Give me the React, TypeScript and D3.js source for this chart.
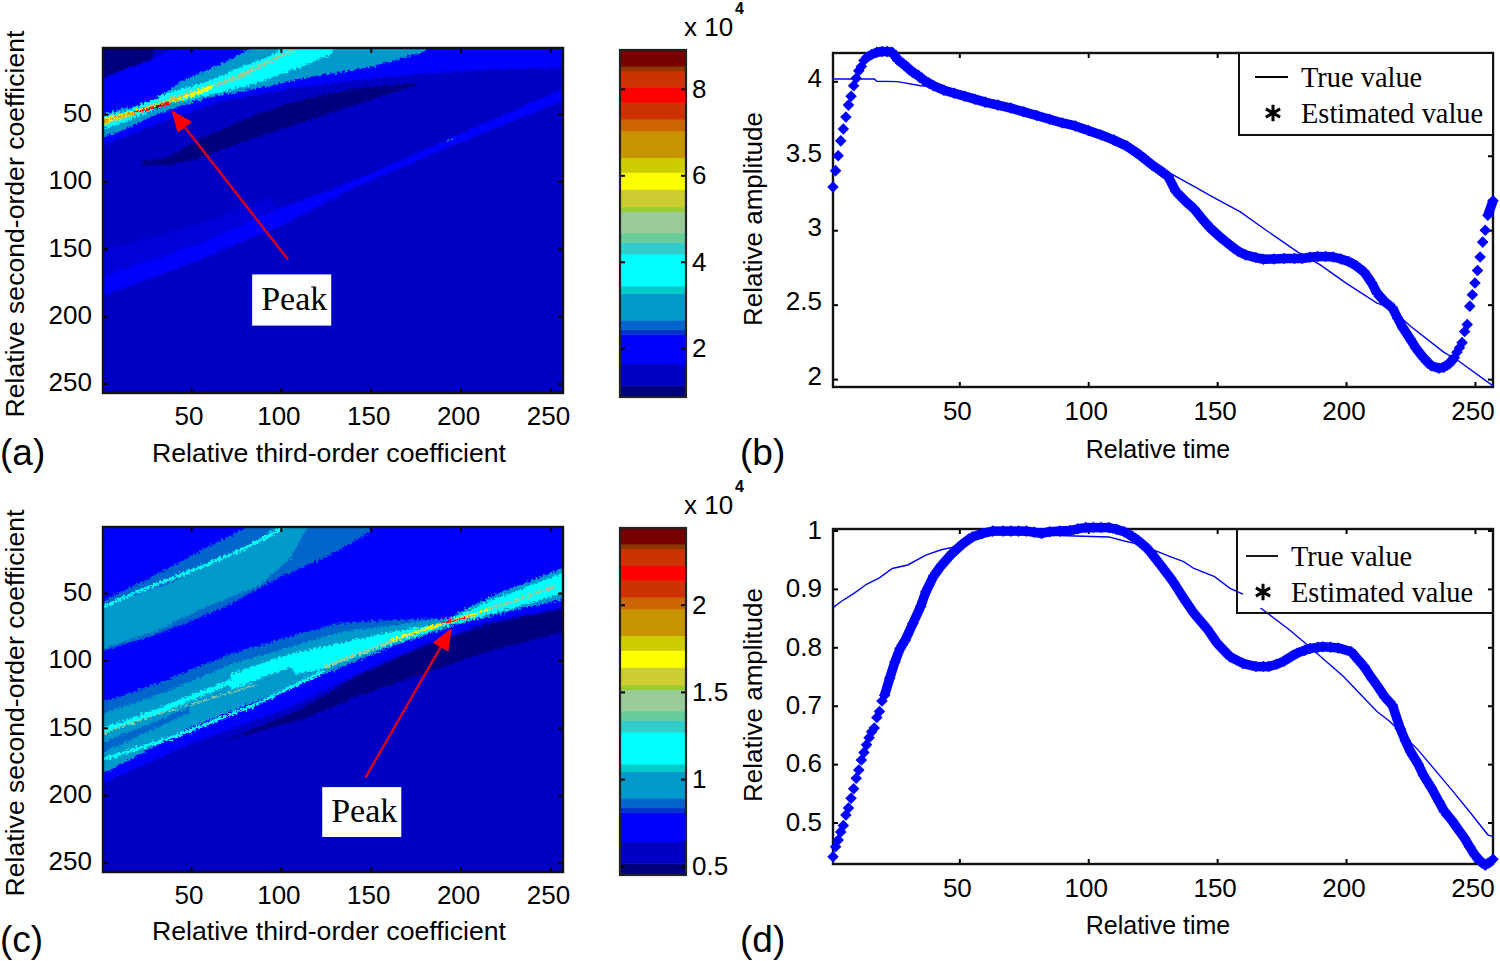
import { useEffect, useRef } from 'react'
import * as d3 from 'd3'

type Pt = [number, number]

const sansFont = '"Liberation Sans", Arial, sans-serif'
const serifFont = '"Liberation Serif", "Times New Roman", serif'

// colour levels of the upper colour bar (x 10^4), bottom to top
const levelStops = [0.87, 1.14, 1.64, 2.32, 2.43, 2.65, 3.27, 3.44, 4.18, 4.45, 4.67, 5.16, 5.27, 5.68, 6.07, 6.41, 7.03, 7.3, 7.69, 8.04, 8.42, 8.53, 8.9]
const levelColors = ['#00007f', '#0000c4', '#0000ff', '#0033cc', '#0066cc', '#0099cc', '#00cccc', '#00ffff', '#33cccc', '#66cc99', '#99cc99', '#99cc33', '#cccc33', '#ffff00', '#cccc00', '#c89400', '#cc6600', '#cc3300', '#ff0000', '#cc3300', '#8c3a00', '#7a0000']
const lowerBarDomain = [0.45, 2.44]

const heatTicks = [50, 100, 150, 200, 250]
const upperBarTicks = [2, 4, 6, 8]
const lowerBarTicks = [0.5, 1, 1.5, 2]
const timeTicks = [50, 100, 150, 200, 250]
const ampTicksB = [2, 2.5, 3, 3.5, 4]
const ampTicksD = [0.5, 0.6, 0.7, 0.8, 0.9, 1]

// panel (a) regions, [third-order, second-order]
const aNavyCorner: Pt[] = [[-5, -5], [29, -5], [29, 9], [-5, 26]]
const aBlueWedge: Pt[] = [[-5, 26], [29, 9], [49, -5], [265, -5], [265, 15], [216, 17], [179, 20], [142, 25], [105, 31], [68, 40], [31, 57], [-5, 77]]
const aNavyStreak: Pt[] = [[22, 85], [36, 83], [57, 67], [83, 52], [109, 40], [142, 31], [176, 27], [176, 28], [142, 43], [105, 59], [72, 74], [57, 82], [38, 88], [22, 88]]
const aFaintFringe: Pt[] = [[-5, 153], [49, 134], [94, 112], [98, 121], [49, 149], [-5, 173]]
const aFaintRidge: Pt[] = [[-5, 173], [49, 149], [98, 121], [142, 99], [194, 68], [265, 27], [265, 36], [194, 74], [142, 104], [98, 134], [49, 161], [-5, 188]]
const aFaintSpot: Pt[] = [[192, 70], [196, 68]]
const aTealBand: Pt[] = [[-5, 52], [27, 41], [46, 25], [68, 12], [83, 2], [88, -5], [190, -5], [179, 4], [151, 15], [114, 23], [87, 31], [59, 38], [31, 50], [12, 62], [-5, 70]]
const aCyanBand: Pt[] = [[-5, 53], [16, 47], [38, 34], [57, 27], [75, 17], [94, 7], [107, -5], [135, -5], [127, 6], [109, 16], [87, 27], [59, 36], [36, 43], [16, 54], [-5, 64]]
const aLightBand: Pt[] = [[-5, 55], [18, 47], [38, 38], [55, 31], [74, 22], [90, 12], [105, 3], [113, -5], [120, -5], [94, 12], [77, 24], [59, 31], [38, 41], [18, 51], [-5, 61]]
const aYellowBand: Pt[] = [[-5, 56], [18, 47.5], [36, 41], [55, 32], [62, 28], [62, 31], [55, 35], [36, 43], [18, 50], [-5, 60]]
const aOrangeCrest: Pt[] = [[-5, 58], [18, 49], [45, 38]]
const aRedCrest: Pt[] = [[18, 49], [30, 45], [38, 42]]
const aDarkCrest: Pt[] = [[29, 45], [33, 44]]

// panel (c) regions
const cBlueRegion: Pt[] = [[-5, -5], [265, -5], [265, 59], [216, 71], [179, 88], [142, 110], [105, 135], [49, 162], [-5, 195]]
const cNavyStreak: Pt[] = [[113, 135], [142, 112], [179, 90], [216, 73], [265, 59], [265, 76], [216, 93], [179, 110], [142, 127], [116, 142], [68, 160]]
const cUpperFringe: Pt[] = [[-5, 60], [31, 36], [59, 16], [77, 4], [88, -5], [155, -5], [148, 6], [124, 24], [98, 39], [68, 61], [31, 81], [-5, 95]]
const cUpperTeal: Pt[] = [[-5, 62], [40, 42], [64, 26], [87, 13], [101, -5], [117, -5], [105, 25], [87, 45], [59, 60], [31, 78], [-5, 94]]
const cUpperCrest: Pt[] = [[-5, 64], [18, 50], [40, 39], [64, 26], [81, 16], [98, 4], [106, -5]]
const cMidFringe: Pt[] = [[-5, 134], [35, 115], [72, 95], [105, 82], [133, 72], [161, 70], [179, 69], [192, 69], [161, 90], [124, 110], [87, 130], [49, 150], [22, 169], [-5, 188]]
const cMidTeal: Pt[] = [[-5, 142], [35, 124], [72, 103], [105, 90], [133, 79], [161, 74], [179, 71], [192, 69], [216, 53], [265, 27], [265, 52], [226, 64], [196, 74], [161, 90], [124, 110], [87, 130], [49, 150], [22, 169], [-5, 188]]
const cMidSlot: Pt[] = [[-5, 164], [31, 145], [49, 135], [49, 139], [31, 150], [-5, 172]]
const cMidCyan: Pt[] = [[72, 110], [105, 95], [133, 87], [161, 79], [190, 72], [216, 56], [265, 31], [265, 47], [226, 62], [196, 73], [161, 88], [124, 106], [109, 110], [105, 105], [72, 122]]
const cMidLeftCrest: Pt[] = [[-5, 155], [31, 138], [72, 116]]
const cLowerCrest: Pt[] = [[-5, 176], [40, 157], [87, 132], [124, 108]]
const cLightCrest: Pt[] = [[124, 105], [161, 86], [192, 72], [216, 62], [253, 45]]
const cLeftCrest: Pt[] = [[-5, 157], [31, 140], [87, 118]]
const cYellowCrest: Pt[] = [[161, 85], [192, 72], [216, 62]]
const cRedCrest: Pt[] = [[190, 72], [205, 68]]

// arrows and boxes, tail then tip / corners
const aArrow: Pt[] = [[104, 158], [39, 47]]
const aPeakBox: Pt[] = [[84, 169], [128, 207]]
const cArrow: Pt[] = [[147, 187], [195, 76]]
const cPeakBox: Pt[] = [[123, 194], [167, 231]]

// panel (b) curves, [time, amplitude]
const bEstimated: Pt[] = [[1, 3.29], [2, 3.4], [3, 3.5], [4, 3.6], [5, 3.68], [6, 3.76], [7, 3.84], [8, 3.9], [9, 3.97], [10, 4.02], [11, 4.07], [12, 4.1], [13, 4.14], [14, 4.16], [15, 4.17], [16, 4.18], [18, 4.195], [20, 4.2], [22, 4.2], [24, 4.195], [26, 4.147], [28, 4.12], [30, 4.09], [32, 4.06], [34, 4.04], [36, 4.01], [38, 3.99], [40, 3.97], [44, 3.94], [48, 3.92], [52, 3.9], [56, 3.88], [60, 3.86], [65, 3.84], [70, 3.82], [75, 3.795], [80, 3.77], [85, 3.745], [90, 3.72], [95, 3.7], [100, 3.67], [105, 3.64], [110, 3.605], [115, 3.565], [120, 3.505], [125, 3.435], [128, 3.4], [131, 3.36], [134, 3.26], [138, 3.19], [141, 3.145], [144, 3.08], [147, 3.02], [151, 2.956], [155, 2.9], [158, 2.86], [161, 2.834], [165, 2.816], [168, 2.805], [172, 2.807], [176, 2.81], [180, 2.81], [183, 2.81], [186, 2.818], [189, 2.823], [192, 2.823], [195, 2.82], [198, 2.807], [201, 2.79], [204, 2.76], [207, 2.72], [210, 2.645], [212, 2.578], [215, 2.52], [218, 2.478], [220, 2.41], [222, 2.345], [225, 2.267], [227, 2.21], [230, 2.144], [233, 2.09], [236, 2.073], [238, 2.08], [240, 2.104], [242, 2.144], [243, 2.18], [244, 2.21], [245, 2.245], [246, 2.32], [247, 2.367], [248, 2.49], [249, 2.567], [250, 2.645], [251, 2.73], [252, 2.82], [253, 2.92], [254, 3.0], [255, 3.1], [257, 3.197]]
const bTrue: Pt[] = [[1, 4.015], [17, 4.015], [18, 4.0], [26, 3.998], [35, 3.97], [39, 3.965], [60, 3.87], [100, 3.67], [124, 3.47], [131, 3.39], [141, 3.295], [147, 3.235], [159, 3.123], [169, 3.0], [181, 2.856], [190, 2.767], [200, 2.645], [212, 2.51], [217, 2.48], [225, 2.355], [238, 2.18], [243, 2.13], [257, 1.955]]

// panel (d) curves
const dEstimated: Pt[] = [[1, 0.4415], [2, 0.4586], [3, 0.47], [4, 0.484], [5, 0.495], [6, 0.513], [7, 0.525], [8, 0.5415], [9, 0.558], [10, 0.5757], [11, 0.59], [12, 0.607], [13, 0.62], [14, 0.633], [15, 0.645], [16, 0.6555], [17, 0.662], [18, 0.68], [19, 0.69], [20, 0.708], [21, 0.718], [23, 0.747], [25, 0.775], [27, 0.798], [29, 0.812], [32, 0.841], [35, 0.87], [37, 0.895], [40, 0.922], [43, 0.94], [47, 0.96], [51, 0.976], [55, 0.989], [59, 0.995], [63, 0.999], [67, 0.999], [70, 0.999], [73, 0.999], [76, 0.999], [79, 0.997], [82, 0.995], [85, 0.998], [89, 0.999], [93, 1.0], [96, 1.003], [99, 1.005], [102, 1.005], [105, 1.005], [108, 1.005], [111, 1.002], [114, 0.998], [117, 0.99], [119, 0.984], [122, 0.973], [124, 0.964], [128, 0.941], [133, 0.912], [137, 0.884], [141, 0.858], [146, 0.8325], [150, 0.807], [155, 0.784], [160, 0.7725], [165, 0.767], [168, 0.767], [170, 0.767], [173, 0.771], [176, 0.7765], [179, 0.785], [181, 0.79], [184, 0.795], [186, 0.798], [189, 0.8], [191, 0.801], [194, 0.8], [197, 0.799], [202, 0.7925], [205, 0.777], [207, 0.767], [210, 0.747], [212, 0.735], [215, 0.715], [218, 0.701], [221, 0.661], [223, 0.64], [225, 0.621], [228, 0.6], [230, 0.581], [233, 0.56], [236, 0.536], [238, 0.52], [241, 0.504], [244, 0.485], [246, 0.473], [248, 0.458], [250, 0.444], [252, 0.434], [254, 0.427], [256, 0.433], [257, 0.437]]
const dTrue: Pt[] = [[1, 0.868], [4, 0.878], [9, 0.892], [14, 0.908], [19, 0.919], [24, 0.935], [30, 0.941], [37, 0.958], [43, 0.967], [48, 0.972], [53, 0.981], [60, 0.995], [108, 0.989], [114, 0.982], [118, 0.978], [127, 0.9637], [132, 0.955], [137, 0.9466], [141, 0.935], [149, 0.921], [155, 0.901], [160, 0.891], [167, 0.867], [178, 0.83], [185, 0.804], [191, 0.781], [199, 0.75], [212, 0.69], [217, 0.673], [228, 0.624], [241, 0.556], [248, 0.518], [255, 0.479], [257, 0.476]]

const legendLabels = ['True value', 'Estimated value']
const curveColor = '#0000ff'

export default function App() {
  const svgRef = useRef<SVGSVGElement>(null)

  useEffect(() => {
    if (!svgRef.current) return
    const svg = d3.select(svgRef.current)
    svg.selectAll('*').remove()

    const levelColor = d3.scaleThreshold<number, string>().domain(levelStops.slice(1, -1)).range(levelColors)
    const toLowerBar = d3.scaleLinear().domain([levelStops[0], levelStops[levelStops.length - 1]]).range(lowerBarDomain)

    // rough edges of the scanned contour maps
    const defs = svg.append('defs')
    const rough = defs.append('filter').attr('id', 'rough').attr('x', '-5%').attr('y', '-5%').attr('width', '110%').attr('height', '110%')
    rough.append('feTurbulence').attr('type', 'fractalNoise').attr('baseFrequency', 0.42).attr('numOctaves', 2).attr('seed', 4).attr('result', 'n')
    rough.append('feDisplacementMap').attr('in', 'SourceGraphic').attr('in2', 'n').attr('scale', 7).attr('xChannelSelector', 'R').attr('yChannelSelector', 'G')

    const styleAxis = (g: any, hideLabels = false) => {
      g.select('.domain').remove()
      g.selectAll('line').attr('stroke', '#000').attr('stroke-width', 2)
      g.selectAll('text').attr('fill', '#000').style('font-family', sansFont).style('font-size', '26px')
      if (hideLabels) g.selectAll('text').remove()
    }

    const frameAxes = (
      x: d3.ScaleLinear<number, number>, y: d3.ScaleLinear<number, number>,
      xTicks: number[], yTicks: number[], padX: number, padY: number, liftY: number, fmtY: (v: number) => string,
    ) => {
      const [l, r] = x.range()
      const [y0, y1] = y.range()
      const top = Math.min(y0, y1)
      const bottom = Math.max(y0, y1)
      svg.append('g').attr('transform', `translate(0,${bottom})`)
        .call(d3.axisBottom(x).tickValues(xTicks).tickSize(-5).tickSizeOuter(0).tickPadding(padX).tickFormat(d3.format('d') as any))
        .call(g => { styleAxis(g); g.selectAll('text').attr('dx', -2.5) })
      svg.append('g').attr('transform', `translate(0,${top})`)
        .call(d3.axisTop(x).tickValues(xTicks).tickSize(-5).tickSizeOuter(0))
        .call(g => styleAxis(g, true))
      svg.append('g').attr('transform', `translate(${l},0)`)
        .call(d3.axisLeft(y).tickValues(yTicks).tickSize(-5).tickSizeOuter(0).tickPadding(padY).tickFormat(fmtY as any))
        .call(g => { styleAxis(g); g.selectAll('text').attr('transform', `translate(0,${-liftY})`) })
      svg.append('g').attr('transform', `translate(${r},0)`)
        .call(d3.axisRight(y).tickValues(yTicks).tickSize(-5).tickSizeOuter(0))
        .call(g => styleAxis(g, true))
      svg.append('rect').attr('x', l).attr('y', top).attr('width', r - l).attr('height', bottom - top)
        .attr('fill', 'none').attr('stroke', '#111').attr('stroke-width', 2.4)
    }

    const label = (txt: string, x: number, y: number, size: number, rotate = false, anchor = 'middle', family = sansFont) => {
      svg.append('text').attr('text-anchor', anchor)
        .attr('transform', `translate(${x},${y})${rotate ? ' rotate(-90)' : ''}`)
        .style('font-family', family).style('font-size', `${size}px`).attr('fill', '#000').text(txt)
    }

    // Heat maps
    const heatMap = (
      id: string, top: number, background: number,
      regions: [Pt[], number, number?][], crests: [Pt[], number, number][],
      arrow: Pt[], box: Pt[],
    ) => {
      const x = d3.scaleLinear().domain([1, 257]).range([103, 563])
      const y = d3.scaleLinear().domain([1, 257]).range([top, top + 345])
      const line = d3.line<Pt>().x(d => x(d[0])).y(d => y(d[1]))
      defs.append('clipPath').attr('id', id).append('rect').attr('x', 103).attr('y', top).attr('width', 460).attr('height', 345)
      const map = svg.append('g').attr('clip-path', `url(#${id})`).append('g').attr('filter', 'url(#rough)')
      map.append('rect').attr('x', 83).attr('y', top - 20).attr('width', 500).attr('height', 385).attr('fill', levelColor(background))
      regions.forEach(([pts, v, op]) => {
        map.append('path').attr('d', line(pts) + 'Z').attr('fill', levelColor(v)).attr('opacity', op ?? 1)
      })
      crests.forEach(([pts, v, w]) => {
        map.append('path').attr('d', line(pts)).attr('fill', 'none').attr('stroke', levelColor(v)).attr('stroke-width', w)
      })
      // annotation
      const [tail, tip] = arrow
      const angle = Math.atan2(y(tip[1]) - y(tail[1]), x(tip[0]) - x(tail[0]))
      const headLen = 22
      const neck: Pt = [x(tip[0]) - headLen * Math.cos(angle), y(tip[1]) - headLen * Math.sin(angle)]
      svg.append('line').attr('x1', x(tail[0])).attr('y1', y(tail[1])).attr('x2', neck[0]).attr('y2', neck[1])
        .attr('stroke', '#d8001c').attr('stroke-width', 2.4)
      const nx = Math.sin(angle) * 9
      const ny = -Math.cos(angle) * 9
      svg.append('polygon').attr('fill', '#f00')
        .attr('points', `${x(tip[0])},${y(tip[1])} ${neck[0] + nx},${neck[1] + ny} ${neck[0] - nx},${neck[1] - ny}`)
      const bx = x(box[0][0])
      const by = y(box[0][1])
      const bw = x(box[1][0]) - bx
      const bh = y(box[1][1]) - by
      svg.append('rect').attr('x', bx).attr('y', by).attr('width', bw).attr('height', bh).attr('fill', '#fff')
      label('Peak', bx + bw / 2 + 2.5, by + bh / 2 + 10, 34, false, 'middle', serifFont)
      frameAxes(x, y, heatTicks, heatTicks, 13.5, 11, 1, d3.format('d') as any)
    }

    heatMap('clipA', 48, 1.4, [
      [aNavyCorner, 1], [aBlueWedge, 2], [aNavyStreak, 1], [aFaintFringe, 2, 0.35], [aFaintRidge, 2],
      [aTealBand, 3], [aCyanBand, 3.8], [aLightBand, 5], [aYellowBand, 6],
    ], [[aFaintSpot, 2.5, 2], [aOrangeCrest, 7, 1.5], [aRedCrest, 7.9, 2], [aDarkCrest, 8.7, 2]], aArrow, aPeakBox)

    heatMap('clipC', 527, 1.4, [
      [cBlueRegion, 2], [cNavyStreak, 1], [cUpperFringe, 2.5], [cUpperTeal, 3],
      [cMidFringe, 2.5], [cMidTeal, 3], [cMidSlot, 2.5], [cMidCyan, 3.8],
    ], [[cUpperCrest, 3.8, 3], [cMidLeftCrest, 3.8, 5], [cLowerCrest, 3.8, 3], [cLeftCrest, 5, 1.3], [cLightCrest, 5, 2.4], [cYellowCrest, 6, 2.2], [cRedCrest, 7.9, 1.6]], cArrow, cPeakBox)

    // Colour bars
    const colorBar = (top: number, bottom: number, domainLow: number, domainHigh: number, ticks: number[], fmt: (v: number) => string, mapStop: (v: number) => number) => {
      const y = d3.scaleLinear().domain([domainLow, domainHigh]).range([bottom, top])
      levelColors.forEach((c, i) => {
        const y1 = y(mapStop(levelStops[i]))
        const y2 = y(mapStop(levelStops[i + 1]))
        svg.append('rect').attr('x', 620).attr('width', 66).attr('y', y2).attr('height', y1 - y2 + 0.5).attr('fill', c)
      })
      svg.append('g').attr('transform', 'translate(686,0)')
        .call(d3.axisRight(y).tickValues(ticks).tickSize(-5).tickSizeOuter(0).tickPadding(6).tickFormat(fmt as any))
        .call(g => styleAxis(g))
      svg.append('g').attr('transform', 'translate(620,0)')
        .call(d3.axisLeft(y).tickValues(ticks).tickSize(-5).tickSizeOuter(0))
        .call(g => styleAxis(g, true))
      svg.append('rect').attr('x', 620).attr('y', top).attr('width', 66).attr('height', bottom - top)
        .attr('fill', 'none').attr('stroke', '#222').attr('stroke-width', 2.2)
      label('x 10', 684, top - 14, 26, false, 'start')
      svg.append('text').attr('x', 735).attr('y', top - 36).style('font-family', sansFont).style('font-size', '16px')
        .style('font-weight', '700').text('4')
    }
    colorBar(50, 397, 0.87, 8.9, upperBarTicks, d3.format('d') as any, v => v)
    colorBar(528, 875, lowerBarDomain[0], lowerBarDomain[1], lowerBarTicks, d3.format('~g') as any, v => toLowerBar(v))

    // Curve panels
    const curvePanel = (
      top: number, bottom: number, yDomain: [number, number], yTicks: number[], liftY: number, fmtY: (v: number) => string,
      truth: Pt[], estimated: Pt[], legendLeft: number, legendBottom: number, lineRow: number, starRow: number, textLeft: number, lineEnds: [number, number], starX: number, patch?: [number, number, number, number],
    ) => {
      const x = d3.scaleLinear().domain([1, 257]).range([833, 1493])
      const y = d3.scaleLinear().domain(yDomain).range([bottom, top])
      const line = d3.line<Pt>().x(d => x(d[0])).y(d => y(d[1]))
      frameAxes(x, y, timeTicks, yTicks, 15, 11, liftY, fmtY)
      svg.append('path').attr('d', line(truth)).attr('fill', 'none').attr('stroke', curveColor).attr('stroke-width', 1.4)
      // markers overlap into a solid band wherever the samples are dense
      estimated.slice(1).forEach((d, i) => {
        const prev = estimated[i]
        if (d[0] - prev[0] < 2) return
        svg.append('path').attr('d', line([prev, d])).attr('fill', 'none').attr('stroke', curveColor).attr('stroke-width', 9.5)
      })
      const diamond = d3.symbol().type(d3.symbolDiamond2).size(85)
      svg.append('g').selectAll('path').data(estimated).enter().append('path')
        .attr('d', diamond as any)
        .attr('transform', d => `translate(${x(d[0])},${y(d[1])})`)
        .attr('fill', curveColor)
      // legend
      svg.append('rect').attr('x', legendLeft).attr('y', top).attr('width', 1493 - legendLeft).attr('height', legendBottom - top)
        .attr('fill', patch ? 'none' : '#fff').attr('stroke', '#111').attr('stroke-width', 2)
      if (patch) {
        svg.append('rect').attr('x', patch[0]).attr('y', patch[1]).attr('width', patch[2]).attr('height', patch[3]).attr('fill', '#fff')
      }
      svg.append('line').attr('x1', lineEnds[0]).attr('x2', lineEnds[1]).attr('y1', lineRow).attr('y2', lineRow).attr('stroke', '#000').attr('stroke-width', 1.8)
      svg.append('path').attr('d', d3.symbol().type(d3.symbolAsterisk).size(190) as any)
        .attr('transform', `translate(${starX},${starRow})`).attr('fill', 'none').attr('stroke', '#000').attr('stroke-width', 3)
      label(legendLabels[0], textLeft, lineRow + 10, 28.4, false, 'start', serifFont)
      label(legendLabels[1], textLeft, starRow + 10, 28.4, false, 'start', serifFont)
    }
    curvePanel(53, 387, [1.947, 4.19], ampTicksB, 3, d3.format('~g') as any, bTrue, bEstimated, 1239, 135, 77, 113, 1301, [1255, 1288], 1273)
    curvePanel(529, 864, [0.429, 1.0026], ampTicksD, 0.5, d3.format('~g') as any, dTrue, dEstimated, 1237, 613, 556, 592, 1291, [1246, 1278], 1263, [1243, 582, 20, 26])

    // Axis titles and panel letters
    label('Relative third-order coefficient', 329, 462, 26.7)
    label('Relative third-order coefficient', 329, 940, 26.7)
    label('Relative second-order coefficient', 24, 224, 26.6, true)
    label('Relative second-order coefficient', 24, 703, 26.6, true)
    label('Relative time', 1158, 458, 25)
    label('Relative time', 1158, 934, 25)
    label('Relative amplitude', 762, 219, 26, true)
    label('Relative amplitude', 762, 695, 26, true)
    label('(a)', 0, 465, 37, false, 'start')
    label('(b)', 740, 465, 37, false, 'start')
    label('(c)', 0, 952, 37, false, 'start')
    label('(d)', 740, 952, 37, false, 'start')
  }, [])

  return (
    <svg ref={svgRef} width={1500} height={961} viewBox="0 0 1500 961"
      style={{ position: 'absolute', left: 0, top: 0, background: '#fff', display: 'block' }} />
  )
}
